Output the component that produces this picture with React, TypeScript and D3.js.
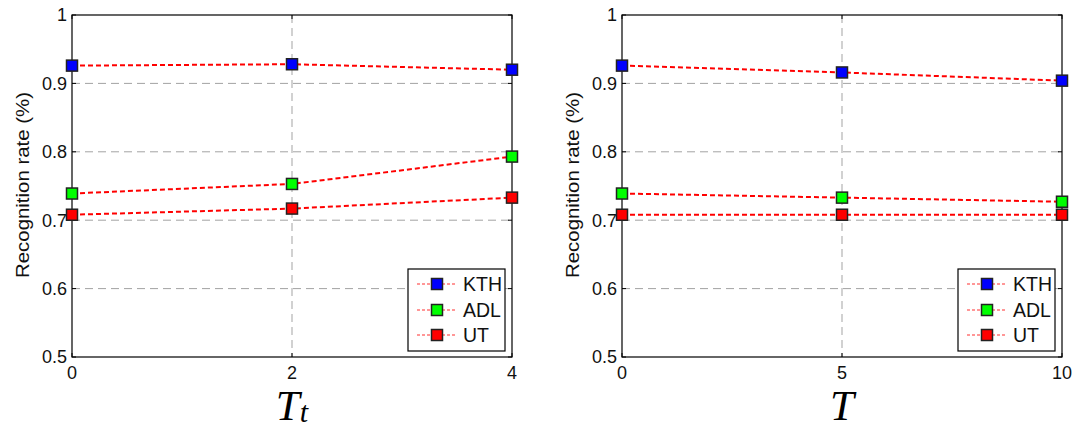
import React from "react";
import * as d3 from "d3";

const WIDTH = 1075;
const HEIGHT = 428;
const TOP = 15;
const BOTTOM = 357;
const PANEL_W = 440;
const FONT = "Liberation Sans, Arial, Helvetica, sans-serif";

// left panel: T_t
const ttValues = [0, 2, 4];
const kthTt = [0.926, 0.928, 0.92];
const adlTt = [0.739, 0.753, 0.793];
const utTt = [0.708, 0.717, 0.733];

// right panel: T
const tValues = [0, 5, 10];
const kthT = [0.926, 0.916, 0.904];
const adlT = [0.739, 0.733, 0.727];
const utT = [0.708, 0.708, 0.708];

const yTicks = [0.5, 0.6, 0.7, 0.8, 0.9, 1];
const seriesNames = ["KTH", "ADL", "UT"];
const seriesFill = ["#0000ff", "#00ff00", "#ff0000"];

const LINE_COLOR = "#ff0000";
const GRID_COLOR = "#a3a3a3";
const MARKER = 11;

type PanelProps = {
  left: number;
  xs: number[];
  series: number[][];
  label: React.ReactNode;
};

function Panel({ left, xs, series, label }: PanelProps) {
  const x = d3
    .scaleLinear()
    .domain(d3.extent(xs) as [number, number])
    .range([left, left + PANEL_W]);
  const y = d3.scaleLinear().domain([0.5, 1]).range([BOTTOM, TOP]);
  const line = d3
    .line<number>()
    .x((_, i) => x(xs[i]))
    .y((d) => y(d));

  const legX = left + PANEL_W - 7 - 97;
  const legY = 269;

  return (
    <g>
      {/* grid */}
      {yTicks.slice(1, -1).map((t) => (
        <line
          key={"gy" + t}
          x1={x.range()[0]}
          x2={x.range()[1]}
          y1={y(t)}
          y2={y(t)}
          stroke={GRID_COLOR}
          strokeDasharray="8,5"
        />
      ))}
      {xs.slice(1, -1).map((t) => (
        <line
          key={"gx" + t}
          x1={x(t)}
          x2={x(t)}
          y1={TOP}
          y2={BOTTOM}
          stroke={GRID_COLOR}
          strokeDasharray="8,5"
        />
      ))}

      {/* ticks */}
      {yTicks.map((t) => (
        <g key={"ty" + t}>
          <line x1={x.range()[0]} x2={x.range()[0] + 4} y1={y(t)} y2={y(t)} stroke="#000" />
          <line x1={x.range()[1]} x2={x.range()[1] - 4} y1={y(t)} y2={y(t)} stroke="#000" />
          <text
            x={x.range()[0] - 5}
            y={y(t)}
            dy="0.36em"
            textAnchor="end"
            fontFamily={FONT}
            fontSize={18}
            fill="#111"
          >
            {t === 1 ? "1" : t.toFixed(1)}
          </text>
        </g>
      ))}
      {xs.map((t) => (
        <g key={"tx" + t}>
          <line x1={x(t)} x2={x(t)} y1={BOTTOM} y2={BOTTOM - 4} stroke="#000" />
          <line x1={x(t)} x2={x(t)} y1={TOP} y2={TOP + 4} stroke="#000" />
          <text
            x={x(t)}
            y={BOTTOM + 22}
            textAnchor="middle"
            fontFamily={FONT}
            fontSize={18}
            fill="#111"
          >
            {t}
          </text>
        </g>
      ))}

      {/* box */}
      <rect
        x={x.range()[0]}
        y={TOP}
        width={PANEL_W}
        height={BOTTOM - TOP}
        fill="none"
        stroke="#000"
        strokeWidth={1.2}
      />

      {/* series lines */}
      {series.map((s, i) => (
        <path
          key={"l" + i}
          d={line(s) || ""}
          fill="none"
          stroke={LINE_COLOR}
          strokeWidth={2}
          strokeDasharray="5,3"
        />
      ))}
      {series.map((s, i) =>
        s.map((v, j) => (
          <rect
            key={"m" + i + "-" + j}
            x={x(xs[j]) - MARKER / 2}
            y={y(v) - MARKER / 2}
            width={MARKER}
            height={MARKER}
            fill={seriesFill[i]}
            stroke="#222"
            strokeWidth={1.5}
          />
        ))
      )}

      {/* legend */}
      <rect x={legX} y={legY} width={97} height={82} fill="#fff" stroke="#000" strokeWidth={1.2} />
      {seriesNames.map((name, i) => {
        const cy = Math.round(legY + 15 + i * 25.5);
        return (
          <g key={"lg" + name}>
            <line
              x1={legX + 9}
              x2={legX + 49}
              y1={cy}
              y2={cy}
              stroke="#ff3030"
              strokeWidth={1.2}
              strokeDasharray="3,2"
            />
            <rect
              x={legX + 29 - MARKER / 2}
              y={cy - MARKER / 2}
              width={MARKER}
              height={MARKER}
              fill={seriesFill[i]}
              stroke="#222"
              strokeWidth={1.5}
            />
            <text
              x={legX + 55}
              y={cy}
              dy="0.36em"
              fontFamily={FONT}
              fontSize={19.5}
              fill="#111"
            >
              {name}
            </text>
          </g>
        );
      })}

      {/* y label */}
      <text
        transform={`translate(${left - 43},185) rotate(-90)`}
        textAnchor="middle"
        fontFamily={FONT}
        fontSize={19}
        textLength={186}
        lengthAdjust="spacingAndGlyphs"
        fill="#111"
      >
        Recognition rate (%)
      </text>

      {/* x label */}
      <text
        x={left + PANEL_W / 2}
        y={420}
        textAnchor="middle"
        fontFamily="Liberation Serif, Times New Roman, serif"
        fontStyle="italic"
        fontSize={43}
        fill="#000"
      >
        {label}
      </text>
    </g>
  );
}

export default function App() {
  return (
    <svg
      width={WIDTH}
      height={HEIGHT}
      style={{ position: "absolute", left: 0, top: 0, background: "#fff" }}
    >
      <rect width={WIDTH} height={HEIGHT} fill="#fff" />
      <Panel
        left={72}
        xs={ttValues}
        series={[kthTt, adlTt, utTt]}
        label={
          <>
            T
            <tspan fontSize={30} dy={2}>
              t
            </tspan>
          </>
        }
      />
      <Panel left={622} xs={tValues} series={[kthT, adlT, utT]} label="T" />
    </svg>
  );
}
